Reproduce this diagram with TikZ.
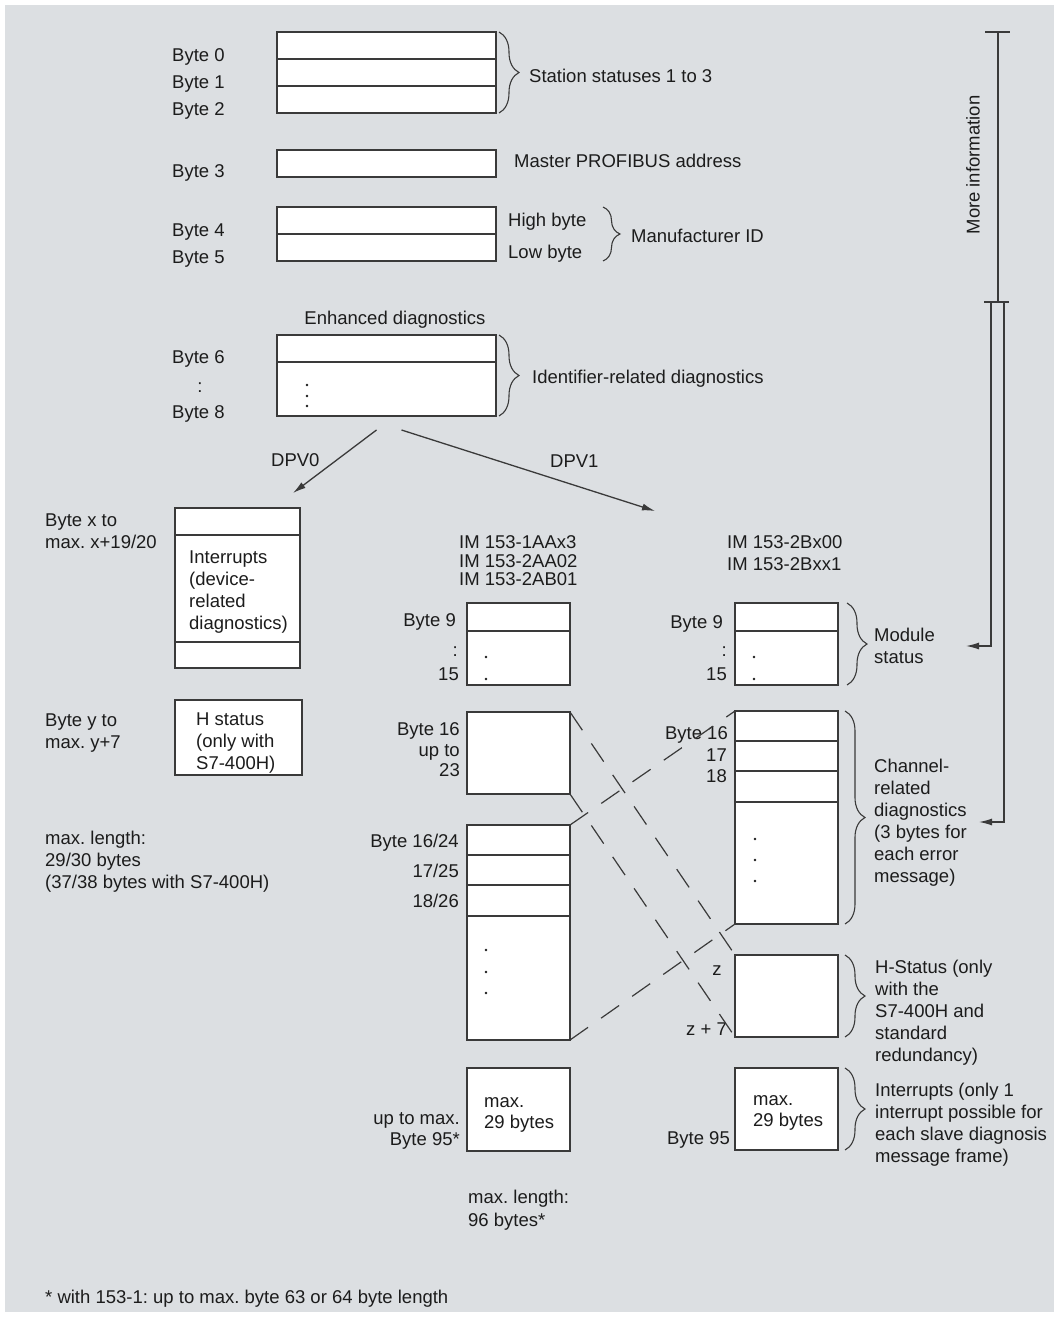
\documentclass[tikz,border=0pt]{standalone}
\usepackage{fontspec}
\setmainfont{Liberation Sans}
\usepackage{xcolor}
\usepackage{tikz}
\usetikzlibrary{arrows.meta,positioning,calc,decorations.pathreplacing}
\definecolor{bgcolor}{HTML}{DCDFE2}
\definecolor{linecolor}{HTML}{3A3A3A}
\definecolor{textcolor}{HTML}{1C1C1C}
\frenchspacing

\begin{document}
\begin{tikzpicture}[
    x=1pt, y=-1pt,
    every node/.style={font=\fontsize{18.5}{22}\selectfont, text=textcolor, inner sep=0pt},
    cell/.style={draw=linecolor, fill=white, line width=1.4pt, outer sep=0pt},
    widecell/.style={cell, minimum width=219},
    slimcell/.style={cell, minimum width=103},
    lbl/.style={anchor=base west},
    lblr/.style={anchor=base east},
    txt/.style={anchor=base west, align=left},
    txtr/.style={anchor=base east, align=right},
    curly/.style={decorate, decoration={brace, amplitude=#1}, draw=linecolor, line width=1.1pt},
    curly/.default=20pt,
    flow/.style={-{Latex[length=13pt, width=7pt]}, draw=linecolor, line width=1.3pt},
    infoline/.style={draw=linecolor, line width=1.3pt},
    mapline/.style={draw=linecolor, line width=1.2pt, dash pattern=on 22pt off 16pt}
]

% Background
\fill[white] (0,0) rectangle (1059,1317);
\fill[bgcolor] (5,5) rectangle (1054,1312);
\useasboundingbox (0,0) rectangle (1059,1317);

% Header bytes 0 to 8
\node[widecell, minimum height=27] (b0) at (386.5,45.5) {};
\node[widecell, minimum height=27, below=0pt of b0] (b1) {};
\node[widecell, minimum height=27, below=0pt of b1] (b2) {};
\node[widecell, minimum height=27] (b3) at (386.5,163.5) {};
\node[widecell, minimum height=27] (b4) at (386.5,220.5) {};
\node[widecell, minimum height=27, below=0pt of b4] (b5) {};
\node[widecell, minimum height=27] (b6) at (386.5,348.5) {};
\node[widecell, minimum height=54, below=0pt of b6] (b7) {};
\foreach \y in {385,396,406} \fill[textcolor] (307,\y) circle (1.3pt);

\node[lbl] (lb0) at (172,61.5) {Byte 0};
\node[lbl] (lb1) at (172,88.5) {Byte 1};
\node[lbl] (lb2) at (172,115.5) {Byte 2};
\node[lbl] (lb3) at (172,177.5) {Byte 3};
\node[lbl] (lb4) at (172,236.5) {Byte 4};
\node[lbl] (lb5) at (172,263.5) {Byte 5};
\node[lbl] (lb6) at (172,363.5) {Byte 6};
\node[anchor=base] (lb7) at (200,392.5) {:};
\node[lbl] (lb8) at (172,418.5) {Byte 8};

\draw[curly] ([xshift=3pt]b0.north east) -- ([xshift=3pt]b2.south east);
\node[lbl] (station) at (529,82) {Station statuses 1 to 3};
\node[lbl] (master) at (514,167) {Master PROFIBUS address};
\node[lbl] (high) at (508,226.5) {High byte};
\node[lbl] (low) at (508,258.5) {Low byte};
\draw[curly=17pt] ([xshift=107pt]b4.north east) -- ([xshift=107pt]b5.south east);
\node[lbl] (manuf) at (631,242.5) {Manufacturer ID};
\node[anchor=base] (enh) at (395,324.5) {Enhanced diagnostics};
\draw[curly] ([xshift=3pt]b6.north east) -- ([xshift=3pt]b7.south east);
\node[lbl] (ident) at (532,383.5) {Identifier-related diagnostics};

% DPV0 / DPV1 branches
\coordinate (dpv0tip) at (293,493);
\coordinate (dpv1tip) at (655,511);
\draw[flow] ([shift={(-10,14)}]b7.south) -- (dpv0tip);
\draw[flow] ([shift={(15,14)}]b7.south) -- (dpv1tip);
\node[lbl] (dpv0) at (271,466) {DPV0};
\node[lbl] (dpv1) at (550,467) {DPV1};

% DPV0 column (base = last line)
\node[cell, minimum width=125, minimum height=27] (ia) at (237.5,521.5) {};
\node[cell, minimum width=125, minimum height=107, below=0pt of ia] (ib) {};
\node[cell, minimum width=125, minimum height=26, below=0pt of ib] (ic) {};
\node[txt] (inttxt) at (189,629.5) {Interrupts\\(device-\\related\\diagnostics)};
\node[txt] (lbx) at (45,548.5) {Byte x to\\max. x+19/20};
\node[cell, minimum width=127, minimum height=75] (hs) at (238.5,737.5) {};
\node[txt] (hstxt) at (196,769.5) {H status\\(only with\\S7-400H)};
\node[txt] (lby) at (45,748.5) {Byte y to\\max. y+7};
\node[txt] (len0) at (45,888) {max. length:\\29/30 bytes\\(37/38 bytes with S7-400H)};

% DPV1, IM 153-1AAx3 / 2AA02 / 2AB01
\node[txt, font=\fontsize{18.5}{18.5}\selectfont] (imA) at (459,585.5) {IM 153-1AAx3\\IM 153-2AA02\\IM 153-2AB01};
\node[slimcell, minimum height=28] (m9) at (518.5,617) {};
\node[slimcell, minimum height=54, below=0pt of m9] (m10) {};
\foreach \y in {657,679} \fill[textcolor] (486,\y) circle (1.3pt);
\node[lblr] (lm9) at (456,626.5) {Byte 9};
\node[lblr] (lm10) at (458,656) {:};
\node[lblr] (lm15) at (459,680.5) {15};
\node[slimcell, minimum height=82] (m16) at (518.5,753) {};
\node[txtr, font=\fontsize{18.5}{20.5}\selectfont] (lm16) at (460,776.5) {Byte 16\\up to\\23};
\node[slimcell, minimum height=30] (m24) at (518.5,840) {};
\node[slimcell, minimum height=30, below=0pt of m24] (m25) {};
\node[slimcell, minimum height=31, below=0pt of m25] (m26) {};
\node[slimcell, minimum height=124, below=0pt of m26] (m27) {};
\foreach \y in {950,972,993} \fill[textcolor] (486,\y) circle (1.3pt);
\node[lblr] (lm24) at (459,847.5) {Byte 16/24};
\node[lblr] (lm25) at (459,877.5) {17/25};
\node[lblr] (lm26) at (459,907.5) {18/26};
\node[slimcell, minimum height=83] (mint) at (518.5,1109.5) {};
\node[txt, font=\fontsize{18.5}{21.5}\selectfont] (mintxt) at (484,1128.5) {max.\\29 bytes};
\node[txtr, font=\fontsize{18.5}{21.5}\selectfont] (lmint) at (460,1145.5) {up to max.\\Byte 95*};
\node[txt, font=\fontsize{18.5}{23}\selectfont] (len1) at (468,1226) {max. length:\\96 bytes*};

% DPV1, IM 153-2Bx00 / 2Bxx1
\node[txt] (imB) at (727,570.5) {IM 153-2Bx00\\IM 153-2Bxx1};
\node[slimcell, minimum height=28] (r9) at (786.5,617) {};
\node[slimcell, minimum height=54, below=0pt of r9] (r10) {};
\foreach \y in {657,679} \fill[textcolor] (754,\y) circle (1.3pt);
\node[lblr] (lr9) at (723,628.5) {Byte 9};
\node[lblr] (lr10) at (727,656) {:};
\node[lblr] (lr15) at (727,680.5) {15};
\draw[curly] ([xshift=9pt]r9.north east) -- ([xshift=9pt]r10.south east);
\node[txt] (modst) at (874,663.5) {Module\\status};

\node[slimcell, minimum height=30] (r16) at (786.5,726) {};
\node[slimcell, minimum height=30, below=0pt of r16] (r17) {};
\node[slimcell, minimum height=31, below=0pt of r17] (r18) {};
\node[slimcell, minimum height=122, below=0pt of r18] (r19) {};
\foreach \y in {839,860,881} \fill[textcolor] (755,\y) circle (1.3pt);
\node[lblr] (lr16) at (728,739.5) {Byte 16};
\node[lblr] (lr17) at (727,761.5) {17};
\node[lblr] (lr18) at (727,782.5) {18};
\draw[curly] ([xshift=7pt]r16.north east) -- ([xshift=7pt]r19.south east);
\node[txt] (chan) at (874,882.5) {Channel-\\related\\diagnostics\\(3 bytes for\\each error\\message)};

\node[slimcell, minimum height=82] (rh) at (786.5,996) {};
\node[anchor=base] (lrz) at (717,975.7) {z};
\node[lblr] (lrz7) at (727,1035.5) {z + 7};
\draw[curly] ([xshift=7pt]rh.north east) -- ([xshift=7pt]rh.south east);
\node[txt] (hstat) at (875,1061.5) {H-Status (only\\with the\\S7-400H and\\standard\\redundancy)};

\node[slimcell, minimum height=82] (rint) at (786.5,1109) {};
\node[txt, font=\fontsize{18.5}{21}\selectfont] (rintxt) at (753,1126.7) {max.\\29 bytes};
\node[lblr] (lrint) at (730,1144.5) {Byte 95};
\draw[curly] ([xshift=7pt]rint.north east) -- ([xshift=7pt]rint.south east);
\node[txt] (intr) at (875,1162.5) {Interrupts (only 1\\interrupt possible for\\each slave diagnosis\\message frame)};

% Byte mapping between the two DPV1 variants
\draw[mapline] (m16.north east) -- (rh.north west);
\draw[mapline] (m16.south east) -- (rh.south west);
\draw[mapline] (m24.north east) -- (r16.north west);
\draw[mapline] (m27.south east) -- (r19.south west);

% More information bracket
\coordinate (infotop) at (998,32);
\coordinate (infobot) at (998,302);
\coordinate (modtip) at (966,646);
\coordinate (chtip) at (979,822);
\draw[infoline] ([xshift=-13pt]infotop) -- ([xshift=12pt]infotop);
\draw[infoline] (infotop) -- (infobot);
\draw[infoline] ([xshift=-14pt]infobot) -- ([xshift=11pt]infobot);
\draw[infoline, -{Latex[length=13pt, width=7pt]}] ([xshift=-7pt]infobot) |- (modtip);
\draw[infoline, -{Latex[length=13pt, width=7pt]}] ([xshift=6pt]infobot) |- (chtip);
\node[rotate=90] (moreinfo) at (973,165) {More information};

% Footnote
\node[lbl] (foot) at (45,1303.5) {* with 153-1: up to max. byte 63 or 64 byte length};

\end{tikzpicture}
\end{document}
